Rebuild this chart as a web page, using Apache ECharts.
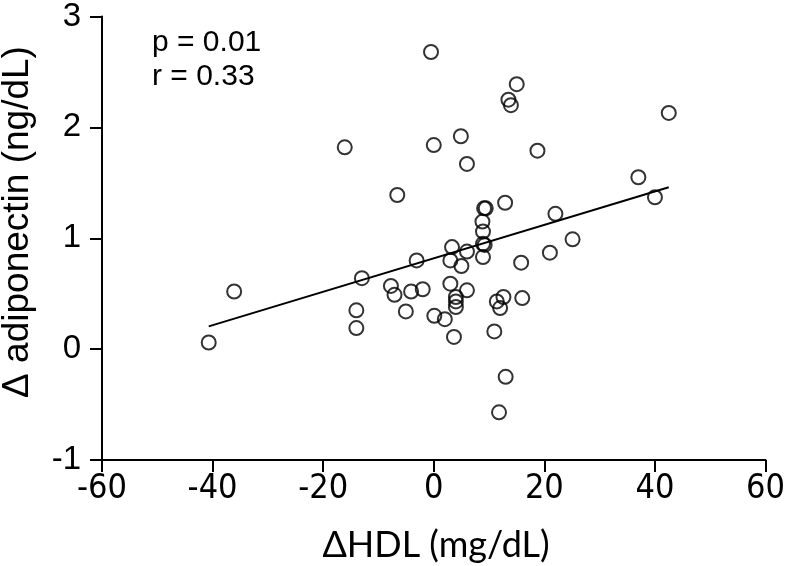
<!DOCTYPE html>
<html>
<head>
<meta charset="utf-8">
<script src="https://cdn.jsdelivr.net/npm/echarts@6/dist/echarts.min.js"></script>
<style>html,body{margin:0;padding:0;background:#fff}#c{width:788px;height:566px}</style>
</head>
<body>
<div id="c"></div>
<script>
// ΔHDL (mg/dL)
const hdl = [-40.7, -36.1, -16.1, -14.0, -14.0, -13.0, -7.75, -7.1, -6.6, -5.05,
  -4.1, -3.1, -2.0, -0.5, 0.0, 0.1, 2.0, 3.0, 3.0, 3.3,
  3.65, 4.0, 4.0, 4.0, 4.9, 5.0, 6.0, 6.0, 6.0, 8.8,
  8.9, 8.9, 9.2, 8.9, 9.1, 9.4, 10.95, 11.4, 12.0, 12.6,
  11.8, 13.0, 12.9, 13.5, 13.95, 15.0, 15.8, 16.0, 18.75, 21.0,
  22.0, 25.1, 37.0, 40.0, 42.5];
// Δ adiponectin (ng/dL)
const adiponectin = [0.06, 0.52, 1.82, 0.35, 0.19, 0.64, 0.57, 0.49, 1.39, 0.34,
  0.52, 0.80, 0.54, 2.68, 1.84, 0.30, 0.27, 0.80, 0.59, 0.92,
  0.11, 0.47, 0.43, 0.38, 1.92, 0.75, 0.88, 1.67, 0.53, 1.15,
  1.06, 0.95, 0.94, 0.83, 1.27, 1.27, 0.16, 0.43, 0.37, 0.47,
  -0.57, -0.25, 1.32, 2.25, 2.20, 2.39, 0.78, 0.46, 1.79, 0.87,
  1.22, 0.99, 1.55, 1.37, 2.13];
// regression line end points
const fitX = [-40.7, 42.5];
const fitY = [0.205, 1.46];
const xTicks = [-60, -40, -20, 0, 20, 40, 60];
const yTicks = [-1, 0, 1, 2, 3];
const stats = ['p = 0.01', 'r = 0.33'];
const xTitle = '\u0394HDL (mg/dL)';
const yTitle = '\u0394 adiponectin (ng/dL)';

const chart = echarts.init(document.getElementById('c'), null, {renderer: 'canvas'});
const axisCommon = {
  axisLine: {show: true, onZero: false, lineStyle: {color: '#000', width: 2}},
  axisTick: {show: true, inside: false, length: 12, lineStyle: {color: '#000', width: 2}},
  splitLine: {show: false}
};
chart.setOption({
  animation: false,
  backgroundColor: '#fff',
  grid: {left: 102, right: 19, top: 13, bottom: 106, containLabel: false},
  xAxis: Object.assign({
    type: 'value', min: xTicks[0], max: xTicks[xTicks.length - 1], interval: 20,
    axisLabel: {color: '#000', fontSize: 34, margin: 12,
      fontFamily: '"Liberation Sans Narrow", "DejaVu Sans Condensed", "Liberation Sans", sans-serif'}
  }, axisCommon),
  yAxis: Object.assign({
    type: 'value', min: yTicks[0], max: yTicks[yTicks.length - 1], interval: 1,
    axisLabel: {color: '#000', fontSize: 33, margin: 21,
      fontFamily: '"Liberation Sans", Arial, sans-serif'}
  }, axisCommon),
  graphic: [
    {type: 'text', x: 152, y: 43, style: {text: stats[0], fill: '#000', verticalAlign: 'middle', font: '30px "Liberation Sans", Arial, sans-serif'}},
    {type: 'text', x: 152, y: 77, style: {text: stats[1], fill: '#000', verticalAlign: 'middle', font: '30px "Liberation Sans", Arial, sans-serif'}},
    {type: 'text', x: 436, y: 545, style: {text: xTitle, fill: '#000', align: 'center', verticalAlign: 'middle', font: '36px Lato, "Open Sans", sans-serif'}},
    {type: 'text', x: 18, y: 222, rotation: Math.PI / 2, style: {text: yTitle, fill: '#000', align: 'center', verticalAlign: 'middle', font: '37px "Liberation Sans", Arial, sans-serif'}}
  ],
  series: [
    {
      type: 'line',
      data: fitX.map((x, i) => [x, fitY[i]]),
      symbol: 'none',
      lineStyle: {color: '#000', width: 2},
      z: 2
    },
    {
      type: 'scatter',
      data: hdl.map((x, i) => [x, adiponectin[i]]),
      symbol: 'circle',
      symbolSize: 14,
      itemStyle: {color: 'rgba(255,255,255,0)', borderColor: '#000', borderWidth: 2},
      z: 3
    }
  ]
});
</script>
</body>
</html>
